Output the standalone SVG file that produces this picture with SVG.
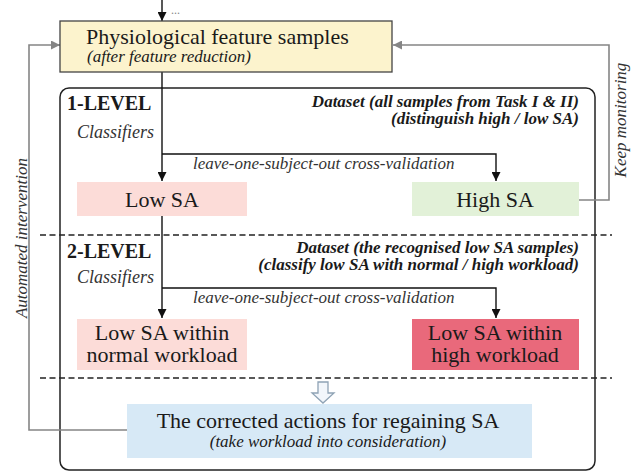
<svg xmlns="http://www.w3.org/2000/svg" width="631" height="474" viewBox="0 0 631 474" font-family="'Liberation Serif', 'DejaVu Serif', serif">
  <defs>
    <marker id="arrowBlack" viewBox="0 0 10 10" refX="10" refY="5" markerWidth="9" markerHeight="9" markerUnits="userSpaceOnUse" orient="auto">
      <path d="M0,0 L10,5 L0,10 z" fill="#111"/>
    </marker>
    <marker id="arrowGray" viewBox="0 0 10 10" refX="10" refY="5" markerWidth="9" markerHeight="9" markerUnits="userSpaceOnUse" orient="auto">
      <path d="M0,0 L10,5 L0,10 z" fill="#858585"/>
    </marker>
    <style>
      text { font-family: 'Liberation Serif', 'DejaVu Serif', serif; fill: #1a1a1a; }
      .big { font-size: 22px; }
      .it { font-size: 17px; font-style: italic; }
      .cls { font-size: 18px; font-style: italic; fill: #333; }
      .lvl { font-size: 20px; font-weight: bold; }
      .ds { font-size: 17px; font-weight: bold; font-style: italic; }
      .side { font-size: 17px; font-style: italic; fill: #333; }
      .flow { fill: none; stroke: #111; stroke-width: 1.4; }
      .fb { fill: none; stroke: #858585; stroke-width: 1.6; }
      .dash { fill: none; stroke: #222; stroke-width: 1.3; stroke-dasharray: 6 3.5; }
      .mid { text-anchor: middle; }
      .end { text-anchor: end; }
    </style>
  </defs>

  <rect width="631" height="474" fill="#ffffff"/>

  <!-- outer frame holding both classification levels -->
  <g id="frame">
    <rect x="60" y="88" width="535" height="382" rx="9" ry="9" fill="none" stroke="#222" stroke-width="1.5"/>
    <line class="dash" x1="40" y1="235" x2="612" y2="235"/>
    <line class="dash" x1="40" y1="378" x2="612" y2="378"/>
  </g>

  <!-- connectors -->
  <g id="connectors">
    <line class="flow" x1="162" y1="0" x2="162" y2="21" marker-end="url(#arrowBlack)"/>
    <line class="flow" x1="162" y1="72" x2="162" y2="181" marker-end="url(#arrowBlack)"/>
    <polyline class="flow" points="162,154 496,154 496,181" marker-end="url(#arrowBlack)"/>
    <line class="flow" x1="162" y1="216" x2="162" y2="318" marker-end="url(#arrowBlack)"/>
    <polyline class="flow" points="162,288 496,288 496,318" marker-end="url(#arrowBlack)"/>
    <polyline class="fb" points="579,200 609,200 609,45 393,45" marker-end="url(#arrowGray)"/>
    <polyline class="fb" points="127,430 29,430 29,45 60,45" marker-end="url(#arrowGray)"/>
    <path d="M318,382 L328,382 L328,393 L334,393 L323,403 L312,393 L318,393 Z" fill="#f2f6fb" stroke="#8fa3b5" stroke-width="1.3"/>
  </g>

  <g id="dots">
    <text x="171" y="14" style="font-size:12px; fill:#888;">...</text>
  </g>

  <g id="features">
    <rect x="60" y="21" width="332" height="51" fill="#fcf3cd" stroke="#444" stroke-width="1.3"/>
    <text class="big" x="86" y="44">Physiological feature samples</text>
    <text class="it" x="87" y="62">(after feature reduction)</text>
  </g>

  <g id="level1">
    <text class="lvl" x="67" y="110">1-LEVEL</text>
    <text class="cls" x="77" y="138">Classifiers</text>
    <text class="ds end" x="579" y="107">Dataset (all samples from Task I &amp; II)</text>
    <text class="ds end" x="579" y="124">(distinguish high / low SA)</text>
    <text class="it" x="193" y="169" style="fill:#333;">leave-one-subject-out cross-validation</text>
  </g>

  <g id="lowSA">
    <rect x="77" y="182" width="170" height="34" fill="#fcdcd8"/>
    <text class="big mid" x="162" y="207">Low SA</text>
  </g>

  <g id="highSA">
    <rect x="412" y="182" width="167" height="34" fill="#e2f1d8"/>
    <text class="big mid" x="495" y="207">High SA</text>
  </g>

  <g id="level2">
    <text class="lvl" x="67" y="258">2-LEVEL</text>
    <text class="cls" x="77" y="283">Classifiers</text>
    <text class="ds end" x="579" y="253">Dataset (the recognised low SA samples)</text>
    <text class="ds end" x="579" y="270">(classify low SA with normal / high workload)</text>
    <text class="it" x="193" y="303" style="fill:#333;">leave-one-subject-out cross-validation</text>
  </g>

  <g id="lowNormal">
    <rect x="77" y="319" width="170" height="51" fill="#fcdcd8"/>
    <text class="big mid" x="162" y="340">Low SA within</text>
    <text class="big mid" x="162" y="362">normal workload</text>
  </g>

  <g id="lowHigh">
    <rect x="412" y="319" width="167" height="51" fill="#e9697b"/>
    <text class="big mid" x="495" y="340">Low SA within</text>
    <text class="big mid" x="495" y="362">high workload</text>
  </g>

  <g id="actions">
    <rect x="127" y="404" width="405" height="54" fill="#d7e9f6"/>
    <text class="big mid" x="328" y="428">The corrected actions for regaining SA</text>
    <text class="it mid" x="328" y="447">(take workload into consideration)</text>
  </g>

  <g id="feedbackLabels">
    <text class="side mid" transform="translate(626,120) rotate(-90)">Keep monitoring</text>
    <text class="side mid" transform="translate(27,238) rotate(-90)">Automated intervention</text>
  </g>
</svg>
